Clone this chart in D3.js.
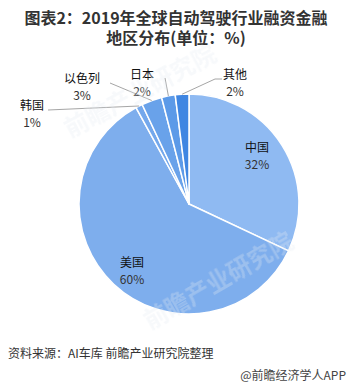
<!DOCTYPE html>
<html>
<head>
<meta charset="utf-8">
<script src="https://cdn.jsdelivr.net/npm/d3@7"></script>
<style>
  body { margin: 0; background: #fff; }
  svg { display: block; font-family: "Noto Sans CJK SC", "Noto Sans", sans-serif; }
</style>
</head>
<body>
<div id="chart"></div>
<script>
// data (order = clockwise from 12 o'clock)
const regions = ["中国", "美国", "韩国", "以色列", "日本", "其他"];
const shares = [32, 60, 1, 3, 2, 2];
const colors = ["#8fbaf2", "#7eaeed", "#74a8ec", "#69a2ea", "#5c9ae8", "#3f86e2"];

// label layout, relative to pie centre (name baseline)
const labelPos = {
  "中国": { x: 68, y: -52 },
  "美国": { x: -57, y: 63 },
  "韩国": { x: -157, y: -94, line: [[-141, -94]] },
  "以色列": { x: -107, y: -121, line: [[-79, -121]] },
  "日本": { x: -47, y: -125, line: [[-24, -126]] },
  "其他": { x: 46, y: -125, line: [[33, -125], [26, -125]] }
};

const width = 354, height = 388;
const cx = 189, cy = 204, radius = 110;

const data = regions.map((r, i) => ({ name: r, value: shares[i], color: colors[i] }));

const svg = d3.select("#chart").append("svg")
    .attr("width", width).attr("height", height);

// title
const title = svg.append("g").attr("font-weight", "bold").attr("font-size", 16)
    .attr("fill", "#333").attr("text-anchor", "middle");
title.append("text").attr("x", 176).attr("y", 24).text("图表2：2019年全球自动驾驶行业融资金融");
title.append("text").attr("x", 176).attr("y", 44).text("地区分布(单位：%)");

const pie = d3.pie().sort(null).value(d => d.value);
const arc = d3.arc().innerRadius(0).outerRadius(radius);
const arcs = pie(data);

const g = svg.append("g").attr("transform", "translate(" + cx + "," + cy + ")");

g.selectAll("path.slice")
    .data(arcs).enter().append("path")
    .attr("class", "slice")
    .attr("d", arc)
    .attr("fill", d => d.data.color)
    .attr("stroke", "#fff")
    .attr("stroke-width", 1.5)
    .attr("stroke-linejoin", "round");

// faint watermarks
const wm = svg.append("g").attr("font-weight", "bold").attr("fill", "#e4eaf2")
    .attr("opacity", 0.3).attr("font-size", 24);
wm.append("text").attr("transform", "translate(70,138) rotate(-28)").text("前瞻产业研究院");
wm.append("text").attr("transform", "translate(150,330) rotate(-30)").text("前瞻产业研究院");

// leader lines for small slices
const edge = a => {
  const m = (a.startAngle + a.endAngle) / 2;
  return [radius * Math.sin(m), -radius * Math.cos(m)];
};
const line = d3.line();
g.selectAll("path.leader")
    .data(arcs.filter(d => labelPos[d.data.name].line)).enter().append("path")
    .attr("class", "leader")
    .attr("d", d => line(labelPos[d.data.name].line.concat([edge(d)])))
    .attr("fill", "none")
    .attr("stroke", "#a6a6a6")
    .attr("stroke-width", 1);

// labels
const lab = g.selectAll("g.label")
    .data(arcs).enter().append("g")
    .attr("class", "label")
    .attr("text-anchor", "middle")
    .attr("font-size", 12)
    .attr("transform", d => "translate(" + labelPos[d.data.name].x + "," + labelPos[d.data.name].y + ")");
lab.append("text").attr("fill", "#111").text(d => d.data.name);
lab.append("text").attr("y", 17).attr("fill", "#333").text(d => d.data.value + "%");

// footer
svg.append("text").attr("x", 8).attr("y", 358).attr("font-size", 12).attr("fill", "#333")
    .text("资料来源：AI车库 前瞻产业研究院整理");
svg.append("text").attr("x", 346).attr("y", 380).attr("font-size", 12).attr("fill", "#444")
    .attr("text-anchor", "end").text("@前瞻经济学人APP");
</script>
</body>
</html>
